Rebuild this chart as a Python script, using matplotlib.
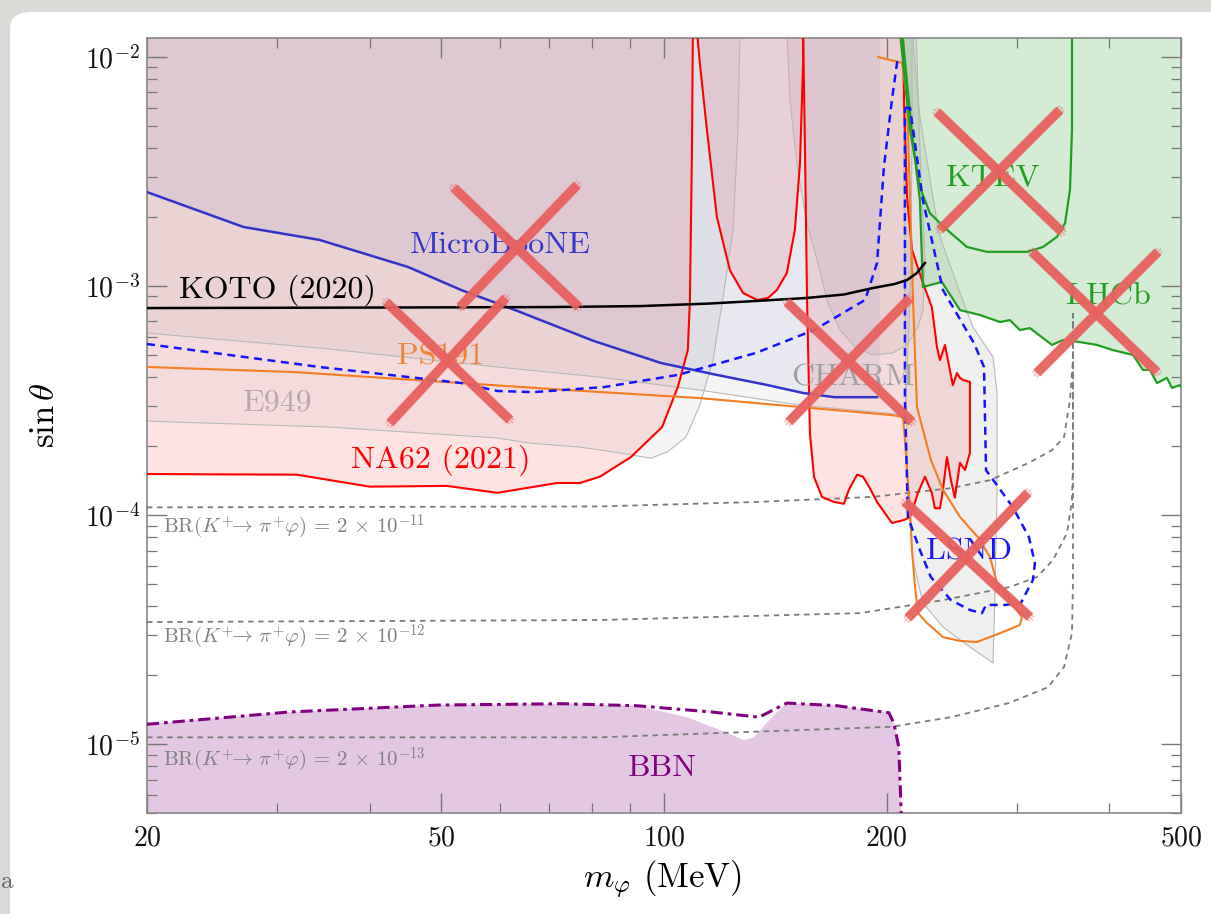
import matplotlib
matplotlib.use('Agg')
import matplotlib.pyplot as plt
from matplotlib.patches import FancyBboxPatch
from matplotlib.ticker import FixedLocator, FixedFormatter, NullFormatter
from matplotlib.transforms import offset_copy

plt.rcParams['mathtext.fontset'] = 'cm'
plt.rcParams['font.family'] = 'cmr10'
plt.rcParams['axes.formatter.use_mathtext'] = True

# ---- data: scalar mass m (MeV) and mixing sin(theta) ----
TOP = 1.3e-2   # above the plot, used to close regions

# NA62 (2021), region below the pi0 window
na62_a_m = [20, 31.9, 40.0, 50.9, 59.5, 71.7, 77.0, 81.9, 90.2, 99.4, 104.4, 107.7, 108.4, 109.1, 109.4]
na62_a_s = [1.51e-4, 1.50e-4, 1.33e-4, 1.34e-4, 1.25e-4, 1.38e-4, 1.38e-4, 1.47e-4, 1.79e-4, 2.42e-4,
            3.62e-4, 5.25e-4, 8.69e-4, 3.93e-3, TOP]
# NA62 pi0 window (U shape)
na62_u_m = [110.8, 111.8, 114.3, 117.9, 122.8, 127.9, 133.6, 138.2, 142.1, 146.6, 150.3, 152.7, 154.2, 154.2]
na62_u_s = [TOP, 9.42e-3, 4.80e-3, 2.00e-3, 1.17e-3, 9.32e-4, 8.69e-4, 8.86e-4, 9.60e-4, 1.14e-3,
            1.76e-3, 3.44e-3, 9.42e-3, TOP]
# NA62 region above the pi0 window
na62_b_m = [154.2, 155.1, 156.1, 157.5, 159.5, 163.5, 169.8, 175.1, 177.8, 182.4, 185.8, 189.3, 194.1,
            203.3, 211.1, 215.1, 217.1, 220.5, 225.3, 230.2, 232.4, 236.1, 238.3, 241.3, 244.3, 247.3,
            251.3, 255.2, 259.2, 259.2, 253.6, 251.3, 248.9, 245.8, 242.0, 239.8, 236.1, 233.9, 230.2,
            223.2, 216.4, 213.1, 211.1, 210.4]
na62_b_s = [TOP, 3.93e-3, 8.69e-4, 2.28e-4, 1.47e-4, 1.20e-4, 1.14e-4, 1.12e-4, 1.29e-4, 1.50e-4,
            1.47e-4, 1.33e-4, 1.14e-4, 9.23e-5, 9.51e-5, 9.80e-5, 1.07e-4, 1.25e-4, 1.47e-4, 1.25e-4,
            1.07e-4, 1.07e-4, 1.29e-4, 1.79e-4, 1.42e-4, 1.19e-4, 1.69e-4, 1.57e-4, 1.87e-4, 3.81e-4,
            3.89e-4, 3.97e-4, 4.17e-4, 3.69e-4, 4.75e-4, 5.53e-4, 4.75e-4, 5.42e-4, 8.09e-4, 1.062e-3,
            1.44e-3, 2.45e-3, 6.49e-3, TOP]

# E949 (two curves)
e949_lo_m = [20, 35.4, 59.5, 65.9, 77.0, 86.9, 96.0, 101.2, 107.1, 111.8, 116.5, 120.2, 124.0, 125.9, 126.7]
e949_lo_s = [2.57e-4, 2.42e-4, 2.17e-4, 2.06e-4, 1.98e-4, 1.87e-4, 1.77e-4, 1.89e-4, 2.19e-4, 3.02e-4,
             4.75e-4, 8.95e-4, 1.76e-3, 4.80e-3, TOP]
e949_hi_m = [20, 34.2, 59.5, 81.9, 111.8, 152.7, 205.8, 211.7, 215.1, 216.4, 216.4]
e949_hi_s = [6.23e-4, 5.36e-4, 4.43e-4, 4.00e-4, 3.51e-4, 3.02e-4, 2.76e-4, 2.76e-4, 8.69e-4, 3.93e-3, TOP]

# CHARM (rounded pocket and the large band)
charm_a_m = [146.6, 148.0, 151.2, 155.6, 161.0, 166.6, 173.0, 181.2, 191.7, 204.0, 213.1, 220.5, 223.9,
             225.3, 221.8, 219.2]
charm_a_s = [TOP, 6.49e-3, 3.44e-3, 1.94e-3, 1.30e-3, 8.43e-4, 6.42e-4, 5.42e-4, 5.00e-4, 5.10e-4,
             5.53e-4, 6.62e-4, 7.85e-4, 1.30e-3, 3.93e-3, TOP]
charm_b_m = [216.4, 221.8, 235.3, 251.3, 261.6, 278.5, 282.0, 282.0, 280.2, 278.5, 259.2, 238.3, 223.9,
             217.1, 213.7, 211.7, 210.4]
charm_b_s = [TOP, 5.47e-3, 1.70e-3, 9.32e-4, 6.62e-4, 4.90e-4, 3.41e-4, 1.25e-4, 4.56e-5, 2.26e-5,
             2.65e-5, 3.24e-5, 4.13e-5, 6.36e-5, 1.16e-4, 8.69e-4, TOP]

# MicroBooNE
ub_m = [20, 27.0, 34.2, 45.1, 53.2, 62.9, 80.4, 99.1, 117.9, 138.2, 154.2, 169.8, 194.1]
ub_s = [2.57e-3, 1.81e-3, 1.59e-3, 1.21e-3, 9.60e-4, 7.85e-4, 5.75e-4, 4.61e-4, 4.09e-4, 3.69e-4,
        3.41e-4, 3.27e-4, 3.27e-4]

# KOTO (2020)
koto_m = [20, 40, 70, 92.8, 115, 133.1, 155.6, 175, 191.7, 205, 213.1, 219.8, 225.3]
koto_s = [8.01e-4, 8.05e-4, 8.09e-4, 8.17e-4, 8.38e-4, 8.60e-4, 8.86e-4, 9.18e-4, 9.80e-4, 1.02e-3,
          1.062e-3, 1.14e-3, 1.26e-3]

# PS191
ps191_m = [20, 31.6, 53.2, 74.4, 111.8, 203.3, 210.4, 211.7, 213.7, 215.1, 216.4, 218.5, 220.5, 226.7,
           238.3, 251.3, 264.9, 284.7, 302.8, 304.7, 293.5, 282.0, 275.9, 265.7, 251.3, 238.3, 229.5,
           219.8, 217.1, 215.1, 213.1, 209.8, 194.7]
ps191_s = [4.43e-4, 4.21e-4, 3.77e-4, 3.51e-4, 3.24e-4, 2.73e-4, 2.68e-4, 2.13e-4, 1.38e-4, 1.05e-4,
           7.03e-5, 4.85e-5, 3.73e-5, 3.38e-5, 2.93e-5, 2.82e-5, 2.79e-5, 3.05e-5, 3.31e-5, 3.58e-5,
           4.25e-5, 5.05e-5, 6.55e-5, 8.01e-5, 9.80e-5, 1.29e-4, 1.74e-4, 2.96e-4, 8.69e-4, 2.37e-3,
           6.49e-3, 9.42e-3, 1.0e-2]

# LSND (two dashed contours)
lsnd_a_m = [20, 34.2, 53.2, 59.5, 66.5, 83.0, 104.4, 133.1, 159.5, 187.0, 194.1, 198.3, 203.3, 207.1]
lsnd_a_s = [5.58e-4, 4.43e-4, 3.77e-4, 3.48e-4, 3.44e-4, 3.62e-4, 4.09e-4, 5.10e-4, 6.42e-4, 8.69e-4,
            1.26e-3, 3.31e-3, 6.49e-3, 1.0e-2]
lsnd_b_m = [211.7, 215.1, 223.9, 238.3, 262.4, 270.8, 272.5, 282.9, 296.3, 311.4, 317.3, 315.3, 303.7,
            289.0, 272.5, 269.1, 259.2, 244.3, 229.5, 221.8, 213.7, 211.7, 211.7]
lsnd_b_s = [5.99e-3, 5.99e-3, 2.37e-3, 9.60e-4, 5.64e-4, 4.43e-4, 1.57e-4, 1.33e-4, 1.08e-4, 8.01e-5,
            6.17e-5, 5.20e-5, 4.13e-5, 4.05e-5, 4.05e-5, 3.73e-5, 3.85e-5, 4.25e-5, 5.36e-5, 7.03e-5,
            9.80e-5, 3.18e-4, 5.99e-3]

# KTEV and LHCb
ktev_m = [208.4, 215.1, 221.8, 228.8, 241.3, 256.8, 273.3, 309.5, 325.3, 339.9, 348.5, 353.9, 356.1, 356.1]
ktev_s = [TOP, 4.80e-3, 2.70e-3, 2.08e-3, 1.76e-3, 1.48e-3, 1.41e-3, 1.41e-3, 1.48e-3, 1.64e-3,
          1.88e-3, 2.63e-3, 4.80e-3, TOP]
lhcb_m = [209.8, 216.4, 221.8, 223.9, 237.5, 251.3, 267.4, 284.7, 293.5, 302.8, 312.4, 334.6, 346.3,
          365.0, 384.8, 404.5, 430.6, 444.2, 453.9, 464.0, 478.6, 486.0, 498.4, 500]
lhcb_s = [TOP, 4.66e-3, 2.37e-3, 9.90e-4, 1.041e-3, 7.85e-4, 7.47e-4, 6.96e-4, 7.10e-4, 6.42e-4,
          6.55e-4, 5.53e-4, 5.81e-4, 5.69e-4, 5.53e-4, 5.25e-4, 5.00e-4, 4.30e-4, 4.30e-4, 3.77e-4,
          3.97e-4, 3.59e-4, 3.69e-4, 3.62e-4]

# BBN
bbn_m = [20, 31.1, 49.5, 73.0, 91.9, 116.1, 134.4, 146.6, 171.3, 201.4, 204.6, 207.7, 209.8]
bbn_s = [1.22e-5, 1.38e-5, 1.48e-5, 1.50e-5, 1.47e-5, 1.38e-5, 1.31e-5, 1.51e-5, 1.47e-5, 1.37e-5,
         1.23e-5, 9.70e-6, 4.0e-6]
bbn_fill_m = [20, 31.1, 49.5, 73.0, 91.9, 107.4, 121.7, 128.3, 132.3, 139.9, 146.6, 171.3, 201.4,
              204.6, 207.7, 209.8, 20]
bbn_fill_s = [1.22e-5, 1.38e-5, 1.48e-5, 1.50e-5, 1.47e-5, 1.31e-5, 1.12e-5, 1.04e-5, 1.07e-5,
              1.31e-5, 1.51e-5, 1.47e-5, 1.37e-5, 1.23e-5, 9.70e-6, 4.0e-6, 4.0e-6]

# contours of fixed BR(K+ -> pi+ phi)
br11_m = [20, 81.9, 133.1, 191.7, 244.3, 275.9, 311.4, 334.6, 347.4, 353.9, 357.2, 357.2]
br11_s = [1.08e-4, 1.09e-4, 1.14e-4, 1.20e-4, 1.31e-4, 1.42e-4, 1.69e-4, 1.92e-4, 2.19e-4, 3.18e-4,
          4.75e-4, 7.62e-4]
br12_m = [20, 81.9, 184.1, 238.3, 293.5, 319.3, 335.7, 350.6, 356.1, 357.2, 357.2]
br12_s = [3.41e-5, 3.48e-5, 3.73e-5, 4.25e-5, 4.85e-5, 5.36e-5, 6.36e-5, 8.34e-5, 1.16e-4, 1.74e-4, 7.62e-4]
br13_m = [20, 81.9, 203.3, 244.3, 292.6, 330.4, 347.4, 356.1, 357.2, 357.2]
br13_s = [1.07e-5, 1.07e-5, 1.19e-5, 1.31e-5, 1.51e-5, 1.77e-5, 2.17e-5, 3.05e-5, 5.05e-5, 7.62e-4]
br_labels = [r'$\mathrm{BR}(K^{+}\!\!\rightarrow\,\pi^{+}\varphi)\,=\,2\,\times\,10^{-11}$',
             r'$\mathrm{BR}(K^{+}\!\!\rightarrow\,\pi^{+}\varphi)\,=\,2\,\times\,10^{-12}$',
             r'$\mathrm{BR}(K^{+}\!\!\rightarrow\,\pi^{+}\varphi)\,=\,2\,\times\,10^{-13}$']
br_label_s = [8.86e-5, 2.93e-5, 8.51e-6]

# hand drawn crosses: (m1, s1, m2, s2) per stroke
crosses = [
    [(52.0, 2.68e-3, 76.7, 8.09e-4), (76.3, 2.76e-3, 53.0, 8.09e-4)],      # MicroBooNE
    [(42.1, 8.51e-4, 61.9, 2.60e-4), (61.1, 8.86e-4, 42.6, 2.52e-4)],      # PS191
    [(146.6, 8.51e-4, 216.4, 2.55e-4), (215.1, 8.86e-4, 147.5, 2.55e-4)],  # CHARM
    [(233.9, 5.75e-3, 345.2, 1.72e-3), (343.0, 5.87e-3, 236.1, 1.76e-3)],  # KTEV
    [(314.4, 1.41e-3, 464.0, 4.21e-4), (465.5, 1.41e-3, 319.3, 4.17e-4)],  # LHCb
    [(211.7, 1.14e-4, 312.4, 3.58e-5), (310.5, 1.25e-4, 213.7, 3.55e-5)],  # LSND
]

# ---- figure ----
fig = plt.figure(figsize=(12.11, 9.14), dpi=100)
fig.patch.set_facecolor('#d9d9d5')
card = FancyBboxPatch((0.0083, -0.05), 1.1, 1.0369, boxstyle='round,pad=0,rounding_size=0.018',
                      transform=fig.transFigure, facecolor='white', edgecolor='none', zorder=0)
fig.add_artist(card)
fig.text(0.001, 0.035, 'a', fontsize=18, color='#666666', ha='left', va='center')

ax = fig.add_axes([147 / 1211, 1 - 813 / 914, 1034 / 1211, 775 / 914])
ax.set_xscale('log')
ax.set_yscale('log')
ax.set_xlim(20, 500)
ax.set_ylim(5e-6, 1.21e-2)

# filled regions
ax.fill(bbn_fill_m, bbn_fill_s, color='#800080', alpha=0.22, lw=0, zorder=1)
ax.fill(na62_a_m + [20], na62_a_s + [TOP], color='red', alpha=0.11, lw=0, zorder=1)
ax.fill(na62_u_m, na62_u_s, color='red', alpha=0.11, lw=0, zorder=1)
ax.fill(na62_b_m, na62_b_s, color='red', alpha=0.11, lw=0, zorder=1)
ax.fill(e949_lo_m + [20], e949_lo_s + [TOP], color='#808080', alpha=0.08, lw=0, zorder=1)
ax.fill(e949_hi_m + [20], e949_hi_s + [TOP], color='#808080', alpha=0.08, lw=0, zorder=1)
ax.fill(charm_a_m, charm_a_s, color='#808080', alpha=0.1, lw=0, zorder=1)
ax.fill(charm_b_m, charm_b_s, color='#999999', alpha=0.15, lw=0, zorder=1)
ax.fill(ub_m + [196, 196, 20], ub_s + [3.27e-4, TOP, TOP], color='#5050c0', alpha=0.08, lw=0, zorder=1)
ax.fill(lhcb_m + [520, 520], lhcb_s + [3.62e-4, TOP], color='#2ca02c', alpha=0.2, lw=0, zorder=1)

# thin gray outlines
for m, s in [(e949_lo_m, e949_lo_s), (e949_hi_m, e949_hi_s), (charm_a_m, charm_a_s), (charm_b_m, charm_b_s)]:
    ax.plot(m, s, color='#b8b8b8', lw=0.8, zorder=2)

# BR contours
for m, s in [(br11_m, br11_s), (br12_m, br12_s), (br13_m, br13_s)]:
    ax.plot(m, s, color='#7a7a7a', lw=1.3, dashes=(3, 2.6), zorder=3)
for lab, s in zip(br_labels, br_label_s):
    ax.text(21.0, s, lab, fontsize=15, color='#808080', ha='left', va='center', zorder=6)

# experiment curves
ax.plot(na62_a_m, na62_a_s, color='red', lw=1.5, zorder=4)
ax.plot(na62_u_m, na62_u_s, color='red', lw=1.5, zorder=4)
ax.plot(na62_b_m, na62_b_s, color='red', lw=1.5, zorder=4)
ax.plot(ub_m, ub_s, color='#3333cc', lw=1.8, zorder=4)
ax.plot(ps191_m, ps191_s, color='#f57d1f', lw=1.5, zorder=4)
ax.plot(lsnd_a_m, lsnd_a_s, color='#1414ff', lw=1.8, dashes=(3.2, 2.2), zorder=5)
ax.plot(lsnd_b_m, lsnd_b_s, color='#1414ff', lw=1.8, dashes=(3.2, 2.2), zorder=5)
ax.plot(koto_m, koto_s, color='black', lw=1.8, zorder=5)
ax.plot(ktev_m, ktev_s, color='#1f9e1f', lw=1.6, zorder=4)
ax.plot(lhcb_m, lhcb_s, color='#1f9e1f', lw=1.6, zorder=4)
ax.plot(bbn_m, bbn_s, color='#800080', lw=2.2, dashes=(4, 1.6, 1.2, 1.6), zorder=5)

# labels
lab_kw = dict(fontsize=23, ha='center', va='center', zorder=6)
ax.text(60.0, 1.51e-3, 'MicroBooNE', color='#3535cc', **lab_kw)
ax.text(30.0, 9.60e-4, 'KOTO (2020)', color='black', **lab_kw)
ax.text(49.9, 4.90e-4, 'PS191', color='#f0843a', **lab_kw)
ax.text(30.0, 3.08e-4, 'E949', color='#b9a9a9', **lab_kw)
ax.text(49.9, 1.74e-4, 'NA62 (2021)', color='red', **lab_kw)
ax.text(180.1, 3.97e-4, 'CHARM', color='#a0a0a0', **lab_kw)
ax.text(278.5, 2.96e-3, 'KTEV', color='#1f9e1f', **lab_kw)
ax.text(398.4, 8.95e-4, 'LHCb', color='#1f9e1f', **lab_kw)
ax.text(258.4, 6.89e-5, 'LSND', color='#1818ee', **lab_kw)
ax.text(99.7, 7.85e-6, 'BBN', color='#800080', **lab_kw)

# crosses, drawn as a core stroke plus a few shifted thin strokes for a chalky edge
fuzz = [(-3.0, 0.0), (3.0, 0.0), (0.0, -3.0), (0.0, 3.0), (-2.2, 2.2), (2.2, -2.2), (2.2, 2.2), (-2.2, -2.2)]
for cross in crosses:
    for m1, s1, m2, s2 in cross:
        ax.plot([m1, m2], [s1, s2], color='#e8625f', lw=6.5, alpha=0.92, solid_capstyle='butt', zorder=10)
        for dx, dy in fuzz:
            tr = offset_copy(ax.transData, fig=fig, x=dx, y=dy, units='points')
            ax.plot([m1, m2], [s1, s2], color='#e8625f', lw=1.1, alpha=0.45, transform=tr,
                    solid_capstyle='butt', zorder=10)

# axes style
ax.xaxis.set_major_locator(FixedLocator([20, 50, 100, 200, 500]))
ax.xaxis.set_major_formatter(FixedFormatter([r'$20$', r'$50$', r'$100$', r'$200$', r'$500$']))
ax.xaxis.set_minor_locator(FixedLocator([30, 40, 60, 70, 80, 90, 300, 400]))
ax.xaxis.set_minor_formatter(NullFormatter())
ydec = [1e-5, 1e-4, 1e-3, 1e-2]
ax.yaxis.set_major_locator(FixedLocator(ydec))
ax.yaxis.set_major_formatter(FixedFormatter([r'$10^{-5}$', r'$10^{-4}$', r'$10^{-3}$', r'$10^{-2}$']))
ax.yaxis.set_minor_locator(FixedLocator([k * d for d in [1e-6, 1e-5, 1e-4, 1e-3] for k in range(2, 10)]))
ax.yaxis.set_minor_formatter(NullFormatter())
ax.tick_params(which='both', direction='in', top=True, right=True, colors='#777777', labelcolor='#111111')
ax.tick_params(which='major', length=14.5, width=1.0, labelsize=20)
ax.tick_params(axis='x', which='major', pad=9)
ax.tick_params(axis='y', which='major', pad=5)
ax.tick_params(which='minor', length=7.5, width=0.9)
for sp in ax.spines.values():
    sp.set_color('#888888')
    sp.set_linewidth(1.2)

ax.text(0.499, -0.0865, r'$m_\varphi$ (MeV)', transform=ax.transAxes, fontsize=25, ha='center', va='center')
ax.text(-0.0986, 0.5135, r'$\sin\theta$', transform=ax.transAxes, fontsize=25, rotation=90,
        ha='center', va='center')

fig.savefig('out.png', dpi=100, facecolor=fig.get_facecolor())
